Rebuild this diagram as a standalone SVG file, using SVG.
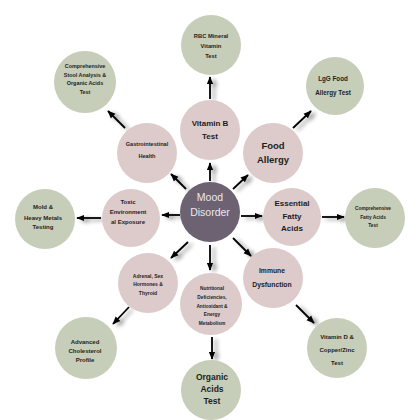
<svg xmlns="http://www.w3.org/2000/svg" width="420" height="420" viewBox="0 0 420 420">
<style>
.in{fill:#dccbca}
.out{fill:#c6cdb8}
.ctr{fill:#6c6272}
text{font-family:"Liberation Sans","Open Sans",sans-serif;font-weight:bold;fill:#1e1e1e;text-anchor:middle}
.w{fill:#ece8ee;font-weight:normal}
.arr{stroke:#000;stroke-width:1.8;fill:none;marker-end:url(#ah)}
</style>
<defs>
<marker id="ah" viewBox="0 0 10 10" refX="9" refY="5" markerWidth="4.5" markerHeight="4.5" orient="auto" markerUnits="strokeWidth">
<path d="M0,1 L10,5 L0,9 Z" fill="#000"/>
</marker>
<filter id="sh" filterUnits="userSpaceOnUse" x="0" y="0" width="420" height="420">
<feGaussianBlur in="SourceAlpha" stdDeviation="2.2"/>
<feOffset dx="4" dy="2" result="b"/>
<feComponentTransfer><feFuncA type="linear" slope="0.45"/></feComponentTransfer>
<feMerge><feMergeNode/><feMergeNode in="SourceGraphic"/></feMerge>
</filter>
</defs>
<rect width="420" height="420" fill="#fff"/>
<g id="connectors" filter="url(#sh)">
<line class="arr" x1="210" y1="181" x2="210" y2="163"/>
<line class="arr" x1="210" y1="99" x2="210" y2="77"/>
<line class="arr" x1="186" y1="189" x2="171" y2="174"/>
<line class="arr" x1="125" y1="128" x2="108" y2="111"/>
<line class="arr" x1="233" y1="189" x2="248" y2="175"/>
<line class="arr" x1="293" y1="128" x2="311" y2="111"/>
<line class="arr" x1="241" y1="216" x2="262" y2="216"/>
<line class="arr" x1="322" y1="217" x2="344" y2="217"/>
<line class="arr" x1="233" y1="238" x2="251" y2="256"/>
<line class="arr" x1="296" y1="305" x2="314" y2="323"/>
<line class="arr" x1="210" y1="245" x2="210" y2="270"/>
<line class="arr" x1="212" y1="337" x2="212" y2="359"/>
<line class="arr" x1="188" y1="242" x2="171" y2="258"/>
<line class="arr" x1="129" y1="307" x2="113" y2="324"/>
<line class="arr" x1="180" y1="215" x2="162" y2="215"/>
<line class="arr" x1="101" y1="218" x2="77" y2="218"/>
</g>
<g id="mood"><circle class="ctr" cx="210" cy="212" r="30"/><text class="w" x="210" y="201" font-size="10.5">Mood</text><text class="w" x="210" y="216" font-size="10.5">Disorder</text></g>
<g id="vitb"><circle class="in" cx="210" cy="130" r="30"/><text x="210" y="126" font-size="8">Vitamin B</text><text x="210" y="139" font-size="8">Test</text></g>
<g id="food"><circle class="in" cx="273" cy="153" r="30"/><text x="273" y="149" font-size="9.5">Food</text><text x="273" y="163" font-size="9.5">Allergy</text></g>
<g id="efa"><circle class="in" cx="292" cy="217" r="29"/><text x="292" y="206" font-size="8">Essential</text><text x="292" y="219" font-size="8">Fatty</text><text x="292" y="231" font-size="8">Acids</text></g>
<g id="immune"><circle class="in" cx="273" cy="278" r="30"/><text x="272" y="273" font-size="6.8">Immune</text><text x="272" y="287" font-size="6.8">Dysfunction</text></g>
<g id="nutri"><circle class="in" cx="211" cy="304" r="31"/><text x="212" y="290" font-size="4.8">Nutritional</text><text x="212" y="299" font-size="4.8">Deficiencies,</text><text x="212" y="308" font-size="4.8">Antioxidant &amp;</text><text x="212" y="316" font-size="4.8">Energy</text><text x="212" y="325" font-size="4.8">Metabolism</text></g>
<g id="adrenal"><circle class="in" cx="148" cy="283" r="30"/><text x="148" y="278" font-size="5">Adrenal, Sex</text><text x="148" y="286" font-size="5">Hormones &amp;</text><text x="148" y="295" font-size="5">Thyroid</text></g>
<g id="toxic"><circle class="in" cx="131" cy="218" r="29"/><text x="128" y="204" font-size="6">Toxic</text><text x="128" y="214" font-size="6">Environment</text><text x="128" y="224" font-size="6">al Exposure</text></g>
<g id="gastro"><circle class="in" cx="147" cy="153" r="30"/><text x="147" y="146" font-size="5.6">Gastrointestinal</text><text x="147" y="158" font-size="5.6">Health</text></g>
<g id="rbc"><circle class="out" cx="211" cy="45" r="30"/><text x="211" y="38" font-size="5.8">RBC Mineral</text><text x="211" y="48" font-size="5.8">Vitamin</text><text x="211" y="58" font-size="5.8">Test</text></g>
<g id="lgg"><circle class="out" cx="335" cy="86" r="29"/><text x="333" y="81" font-size="6.3">LgG Food</text><text x="333" y="95" font-size="6.3">Allergy Test</text></g>
<g id="cfa"><circle class="out" cx="375" cy="218" r="30"/><text x="373" y="210" font-size="4.8">Comprehensive</text><text x="373" y="219" font-size="4.8">Fatty Acids</text><text x="373" y="227" font-size="4.8">Test</text></g>
<g id="vitd"><circle class="out" cx="337" cy="348" r="30"/><text x="337" y="339" font-size="6">Vitamin D &amp;</text><text x="337" y="352" font-size="6">Copper/Zinc</text><text x="337" y="365" font-size="6">Test</text></g>
<g id="oat"><circle class="out" cx="211" cy="390" r="30"/><text x="212" y="380" font-size="8.5">Organic</text><text x="212" y="392" font-size="8.5">Acids</text><text x="212" y="404" font-size="8.5">Test</text></g>
<g id="chol"><circle class="out" cx="86" cy="348" r="31"/><text x="85" y="344" font-size="6">Advanced</text><text x="85" y="353" font-size="6">Cholesterol</text><text x="85" y="362" font-size="6">Profile</text></g>
<g id="mold"><circle class="out" cx="45" cy="219" r="30"/><text x="43" y="209" font-size="6">Mold &amp;</text><text x="43" y="220" font-size="6">Heavy Metals</text><text x="43" y="229" font-size="6">Testing</text></g>
<g id="stool"><circle class="out" cx="85" cy="82" r="31"/><text x="85" y="68" font-size="5.4">Comprehensive</text><text x="85" y="77" font-size="5.4">Stool Analysis &amp;</text><text x="85" y="85" font-size="5.4">Organic Acids</text><text x="85" y="94" font-size="5.4">Test</text></g>
</svg>
